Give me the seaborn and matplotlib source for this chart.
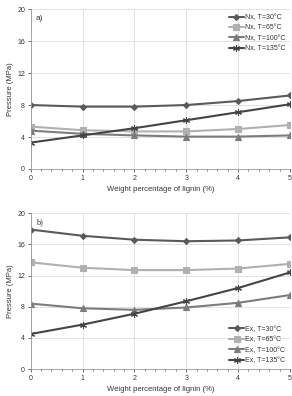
import numpy as np
import pandas as pd
import seaborn as sns
import matplotlib
matplotlib.use("Agg")
import matplotlib.pyplot as plt
from matplotlib.ticker import MultipleLocator

lignin = [0, 1, 2, 3, 4, 5]
temps = ['30', '65', '100', '135']

# panel a) Nx
nx_30 = [8.0, 7.8, 7.8, 8.0, 8.5, 9.2]
nx_65 = [5.3, 4.85, 4.7, 4.7, 5.0, 5.5]
nx_100 = [4.8, 4.4, 4.2, 4.05, 4.05, 4.2]
nx_135 = [3.3, 4.2, 5.1, 6.1, 7.1, 8.1]

# panel b) Ex
ex_30 = [17.9, 17.1, 16.6, 16.4, 16.5, 16.9]
ex_65 = [13.7, 13.0, 12.7, 12.7, 12.9, 13.5]
ex_100 = [8.4, 7.8, 7.6, 7.9, 8.5, 9.5]
ex_135 = [4.5, 5.7, 7.1, 8.7, 10.4, 12.4]

colors = ['#5a5a5a', '#b0b0b0', '#7c7c7c', '#444444']
markers = ['D', 's', '^', (6, 2, 0)]
msizes = [3, 5, 4, 5]


def long_df(prefix, series):
    rows = []
    for t, vals in zip(temps, series):
        for x, y in zip(lignin, vals):
            rows.append({'x': x, 'y': y, 'label': f'{prefix}, T={t}\u00b0C'})
    return pd.DataFrame(rows)


sns.set_style('white')
plt.rcParams['font.family'] = ['Liberation Sans', 'DejaVu Sans']

fig, axes = plt.subplots(2, 1, figsize=(2.92, 3.96), dpi=100,
                         gridspec_kw={'height_ratios': [160, 156]})
fig.subplots_adjust(left=0.105, right=0.993, top=0.977, bottom=0.068, hspace=0.28)

panels = [('Nx', [nx_30, nx_65, nx_100, nx_135], 'a)', 'upper right'),
          ('Ex', [ex_30, ex_65, ex_100, ex_135], 'b)', 'lower right')]

for ax, (prefix, series, tag, loc) in zip(axes, panels):
    df = long_df(prefix, series)
    labels = list(df['label'].unique())
    for i, lab in enumerate(labels):
        sub = df[df['label'] == lab]
        sns.lineplot(data=sub, x='x', y='y', ax=ax, color=colors[i], marker=markers[i],
                     markersize=msizes[i], markeredgecolor=colors[i], markeredgewidth=0.8,
                     linewidth=1.5, label=lab)
    ax.set_xlim(0, 5)
    ax.set_ylim(0, 20)
    ax.set_yticks([0, 4, 8, 12, 16, 20])
    ax.set_xticks(lignin)
    ax.xaxis.set_minor_locator(MultipleLocator(0.2))
    ax.grid(True, color='#dcdcdc', linewidth=0.6)
    ax.tick_params(axis='both', labelsize=5, length=2, width=0.5, pad=2, colors='#333333')
    ax.tick_params(axis='x', which='minor', length=1.5, width=0.4, bottom=True)
    ax.tick_params(axis='x', which='major', bottom=True)
    ax.tick_params(axis='y', left=True)
    for s in ['top', 'right']:
        ax.spines[s].set_visible(False)
    for s in ['left', 'bottom']:
        ax.spines[s].set_color('#999999')
        ax.spines[s].set_linewidth(0.6)
    ax.set_xlabel('Weight percentage of lignin (%)', fontsize=5.5, color='#333333', labelpad=3)
    ax.set_ylabel('Pressure (MPa)', fontsize=5.5, color='#333333', labelpad=2)
    ax.text(0.02, 0.93, tag, transform=ax.transAxes, fontsize=6, color='#333333',
            family=['Liberation Serif', 'DejaVu Serif'] if tag == 'b)' else None)
    ax.legend(loc=loc, frameon=False, fontsize=5, handlelength=2.2, handletextpad=0.1,
              labelspacing=0.5, borderaxespad=0.3, labelcolor='#333333')

plt.savefig('out.png', dpi=100)
